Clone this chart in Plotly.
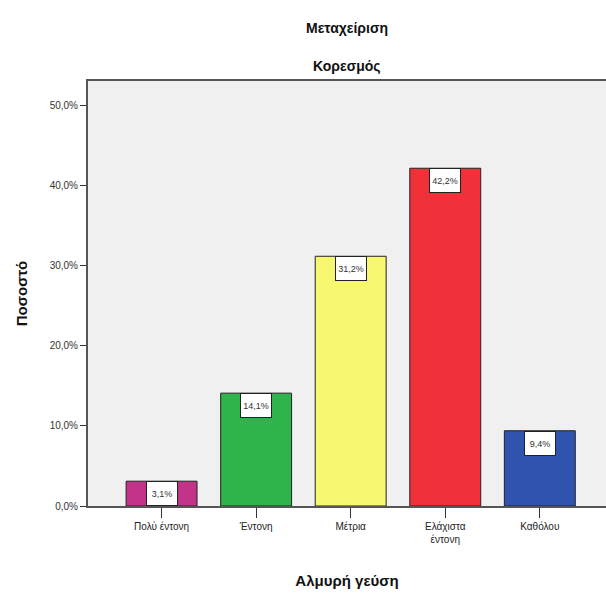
import plotly.graph_objects as go

categories = ["Πολύ έντονη", "Έντονη", "Μέτρια", "Ελάχιστα<br>έντονη", "Καθόλου"]
percentages = [3.1, 14.1, 31.2, 42.2, 9.4]
bar_labels = ["3,1%", "14,1%", "31,2%", "42,2%", "9,4%"]
bar_colors = ["#c3338a", "#2fb44b", "#f8f770", "#f03139", "#3153b0"]
y_ticks = [0, 10, 20, 30, 40, 50]
y_tick_text = ["0,0%", "10,0%", "20,0%", "30,0%", "40,0%", "50,0%"]

fig = go.Figure()
fig.add_trace(go.Bar(
    x=categories,
    y=percentages,
    width=0.75,
    marker=dict(color=bar_colors, line=dict(color="#222222", width=1)),
    hoverinfo="x+y",
))

# white value boxes sitting at the top of each bar
for cat, val, lab in zip(categories, percentages, bar_labels):
    fig.add_annotation(
        x=cat, y=val, text=lab, showarrow=False,
        yanchor="top", yshift=0,
        font=dict(family="Liberation Sans, Arial", size=9, color="#333333"),
        bgcolor="white", bordercolor="#222222", borderwidth=1,
        width=28, height=21,
    )

# two-line title
fig.add_annotation(x=0.5, y=1.0, xref="paper", yref="paper", yshift=53,
                   yanchor="middle", text="<b>Μεταχείριση</b>", showarrow=False,
                   font=dict(family="Liberation Sans, Arial", size=14, color="#111111"))
fig.add_annotation(x=0.5, y=1.0, xref="paper", yref="paper", yshift=15,
                   yanchor="middle", text="<b>Κορεσμός</b>", showarrow=False,
                   font=dict(family="Liberation Sans, Arial", size=14, color="#111111"))

fig.update_layout(
    width=606, height=599,
    margin=dict(l=88, r=0, t=81, b=93),
    paper_bgcolor="white",
    plot_bgcolor="#f0f0f0",
    showlegend=False,
    font=dict(family="Liberation Sans, Arial", color="#333333"),
    xaxis=dict(
        range=[-0.778, 4.70],
        showline=True, linecolor="#555555", linewidth=2, mirror=True,
        ticks="outside", ticklen=10, tickwidth=1, tickcolor="#333333",
        tickfont=dict(size=10, color="#222222"),
        showgrid=False,
        title=dict(text="<b>Αλμυρή γεύση</b>", standoff=31,
                   font=dict(size=15, color="#111111")),
    ),
    yaxis=dict(
        range=[0, 53.1],
        tickvals=y_ticks, ticktext=y_tick_text,
        showline=True, linecolor="#555555", linewidth=2, mirror=False,
        ticks="outside", ticklen=6, tickwidth=1, tickcolor="#333333",
        tickfont=dict(size=10, color="#333333"),
        showgrid=False, zeroline=False,
        title=dict(text="<b>Ποσοστό</b>", standoff=18,
                   font=dict(size=15, color="#111111")),
    ),
)

# drop the default page margin so the figure fills the window
fig.write_html(
    "out.html",
    config={"displayModeBar": False},
    post_script="document.body.style.margin='0';document.body.style.overflow='hidden';",
)
